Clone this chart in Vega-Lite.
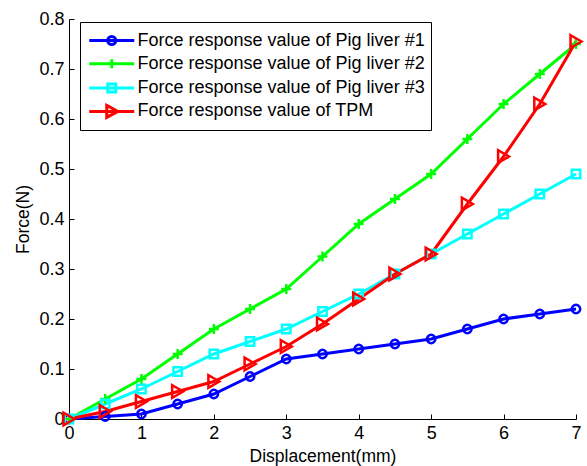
{
  "$schema": "https://vega.github.io/schema/vega-lite/v6.json",
  "width": 507,
  "height": 400,
  "autosize": {"type": "none"},
  "padding": {"left": 69, "top": 19, "right": 11, "bottom": 47},
  "background": "white",
  "config": {
    "view": {"stroke": null},
    "font": "Liberation Sans",
    "axis": {
      "labelFont": "Liberation Sans",
      "titleFont": "Liberation Sans",
      "labelFontSize": 18,
      "titleFontSize": 17.5,
      "titleFontWeight": "normal",
      "labelColor": "black",
      "titleColor": "black",
      "domainColor": "black",
      "tickColor": "black",
      "grid": false,
      "tickSize": -5,
      "domainWidth": 1
    }
  },
  "datasets": {
    "d": [
      {"x": 0, "y": 0, "s": "Force response value of Pig liver #1"},
      {"x": 0.5, "y": 0.005, "s": "Force response value of Pig liver #1"},
      {"x": 1, "y": 0.01, "s": "Force response value of Pig liver #1"},
      {"x": 1.5, "y": 0.03, "s": "Force response value of Pig liver #1"},
      {"x": 2, "y": 0.05, "s": "Force response value of Pig liver #1"},
      {"x": 2.5, "y": 0.085, "s": "Force response value of Pig liver #1"},
      {"x": 3, "y": 0.12, "s": "Force response value of Pig liver #1"},
      {"x": 3.5, "y": 0.13, "s": "Force response value of Pig liver #1"},
      {"x": 4, "y": 0.14, "s": "Force response value of Pig liver #1"},
      {"x": 4.5, "y": 0.15, "s": "Force response value of Pig liver #1"},
      {"x": 5, "y": 0.16, "s": "Force response value of Pig liver #1"},
      {"x": 5.5, "y": 0.18, "s": "Force response value of Pig liver #1"},
      {"x": 6, "y": 0.2, "s": "Force response value of Pig liver #1"},
      {"x": 6.5, "y": 0.21, "s": "Force response value of Pig liver #1"},
      {"x": 7, "y": 0.22, "s": "Force response value of Pig liver #1"},
      {"x": 0, "y": 0, "s": "Force response value of Pig liver #2"},
      {"x": 0.5, "y": 0.04, "s": "Force response value of Pig liver #2"},
      {"x": 1, "y": 0.08, "s": "Force response value of Pig liver #2"},
      {"x": 1.5, "y": 0.13, "s": "Force response value of Pig liver #2"},
      {"x": 2, "y": 0.18, "s": "Force response value of Pig liver #2"},
      {"x": 2.5, "y": 0.22, "s": "Force response value of Pig liver #2"},
      {"x": 3, "y": 0.26, "s": "Force response value of Pig liver #2"},
      {"x": 3.5, "y": 0.325, "s": "Force response value of Pig liver #2"},
      {"x": 4, "y": 0.39, "s": "Force response value of Pig liver #2"},
      {"x": 4.5, "y": 0.44, "s": "Force response value of Pig liver #2"},
      {"x": 5, "y": 0.49, "s": "Force response value of Pig liver #2"},
      {"x": 5.5, "y": 0.56, "s": "Force response value of Pig liver #2"},
      {"x": 6, "y": 0.63, "s": "Force response value of Pig liver #2"},
      {"x": 6.5, "y": 0.69, "s": "Force response value of Pig liver #2"},
      {"x": 7, "y": 0.75, "s": "Force response value of Pig liver #2"},
      {"x": 0, "y": 0, "s": "Force response value of Pig liver #3"},
      {"x": 0.5, "y": 0.03, "s": "Force response value of Pig liver #3"},
      {"x": 1, "y": 0.06, "s": "Force response value of Pig liver #3"},
      {"x": 1.5, "y": 0.095, "s": "Force response value of Pig liver #3"},
      {"x": 2, "y": 0.13, "s": "Force response value of Pig liver #3"},
      {"x": 2.5, "y": 0.155, "s": "Force response value of Pig liver #3"},
      {"x": 3, "y": 0.18, "s": "Force response value of Pig liver #3"},
      {"x": 3.5, "y": 0.215, "s": "Force response value of Pig liver #3"},
      {"x": 4, "y": 0.25, "s": "Force response value of Pig liver #3"},
      {"x": 4.5, "y": 0.29, "s": "Force response value of Pig liver #3"},
      {"x": 5, "y": 0.33, "s": "Force response value of Pig liver #3"},
      {"x": 5.5, "y": 0.37, "s": "Force response value of Pig liver #3"},
      {"x": 6, "y": 0.41, "s": "Force response value of Pig liver #3"},
      {"x": 6.5, "y": 0.45, "s": "Force response value of Pig liver #3"},
      {"x": 7, "y": 0.49, "s": "Force response value of Pig liver #3"},
      {"x": 0, "y": 0, "s": "Force response value of TPM"},
      {"x": 0.5, "y": 0.015, "s": "Force response value of TPM"},
      {"x": 1, "y": 0.035, "s": "Force response value of TPM"},
      {"x": 1.5, "y": 0.055, "s": "Force response value of TPM"},
      {"x": 2, "y": 0.075, "s": "Force response value of TPM"},
      {"x": 2.5, "y": 0.11, "s": "Force response value of TPM"},
      {"x": 3, "y": 0.145, "s": "Force response value of TPM"},
      {"x": 3.5, "y": 0.19, "s": "Force response value of TPM"},
      {"x": 4, "y": 0.24, "s": "Force response value of TPM"},
      {"x": 4.5, "y": 0.29, "s": "Force response value of TPM"},
      {"x": 5, "y": 0.33, "s": "Force response value of TPM"},
      {"x": 5.5, "y": 0.43, "s": "Force response value of TPM"},
      {"x": 6, "y": 0.525, "s": "Force response value of TPM"},
      {"x": 6.5, "y": 0.63, "s": "Force response value of TPM"},
      {"x": 7, "y": 0.755, "s": "Force response value of TPM"}
    ]
  },
  "data": {"name": "d"},
  "encoding": {
    "x": {
      "field": "x", "type": "quantitative",
      "scale": {"domain": [0, 7], "nice": false, "zero": false},
      "axis": {"title": "Displacement(mm)", "values": [0,1,2,3,4,5,6,7], "format": "~g", "labelPadding": 10, "titlePadding": 5, "labelFlush": false}
    },
    "y": {
      "field": "y", "type": "quantitative",
      "scale": {"domain": [0, 0.8], "nice": false},
      "axis": {"title": "Force(N)", "values": [0,0.1,0.2,0.3,0.4,0.5,0.6,0.7,0.8], "format": "~g", "labelPadding": 10, "labelAlign": "right", "titlePadding": 6, "labelFlush": false}
    }
  },
  "layer": [
    {
      "mark": {"type": "line", "strokeWidth": 3},
      "encoding": {
        "color": {
          "field": "s", "type": "nominal",
          "scale": {
            "domain": ["Force response value of Pig liver #1", "Force response value of Pig liver #2", "Force response value of Pig liver #3", "Force response value of TPM"],
            "range": ["#0000ff", "#00ff00", "#00ffff", "#ff0000"]
          },
          "legend": {
            "title": null,
            "orient": "none",
            "legendX": 11,
            "legendY": 3,
            "strokeColor": "black",
            "fillColor": "white",
            "padding": 6,
            "labelFont": "Liberation Sans",
            "labelFontSize": 18,
            "labelColor": "black",
            "labelLimit": 500,
            "symbolSize": 484,
            "symbolStrokeWidth": 3,
            "symbolType": "M-0.84,0L3.25,0",
            "labelOffset": 26.5,
            "rowPadding": 0.3,
            "encode": {
              "symbols": {
                "update": {
                  "shape": {"signal": "datum.index == 0 ? 'M-0.84,0L3.25,0M1.569,0A0.364,0.364,0,1,1,0.841,0A0.364,0.364,0,1,1,1.569,0' : datum.index == 1 ? 'M-0.84,0L3.25,0M1.205,-0.41L1.205,0.41' : datum.index == 2 ? 'M-0.84,0L3.25,0M0.841,-0.364L1.569,-0.364L1.569,0.364L0.841,0.364Z' : 'M-0.84,0L3.25,0M0.75,-0.545L1.75,0L0.75,0.545Z'"},
                  "fill": {"value": "transparent"}
                }
              }
            }
          }
        }
      }
    },
    {
      "transform": [{"filter": "datum.s == 'Force response value of Pig liver #1'"}],
      "mark": {"type": "point", "shape": "circle", "filled": false, "strokeWidth": 2.5, "opacity": 1, "size": 70, "color": "#0000ff"}
    },
    {
      "transform": [{"filter": "datum.s == 'Force response value of Pig liver #2'"}],
      "mark": {"type": "point", "shape": "M-1,0L1,0M0,-1L0,1", "filled": false, "strokeWidth": 2.5, "opacity": 1, "size": 100, "color": "#00ff00"}
    },
    {
      "transform": [{"filter": "datum.s == 'Force response value of Pig liver #3'"}],
      "mark": {"type": "point", "shape": "square", "filled": false, "strokeWidth": 2.5, "opacity": 1, "size": 70, "color": "#00ffff"}
    },
    {
      "transform": [{"filter": "datum.s == 'Force response value of TPM'"}],
      "mark": {"type": "point", "shape": "triangle-right", "filled": false, "strokeWidth": 2.5, "opacity": 1, "size": 160, "color": "#ff0000"}
    }
  ]
}
